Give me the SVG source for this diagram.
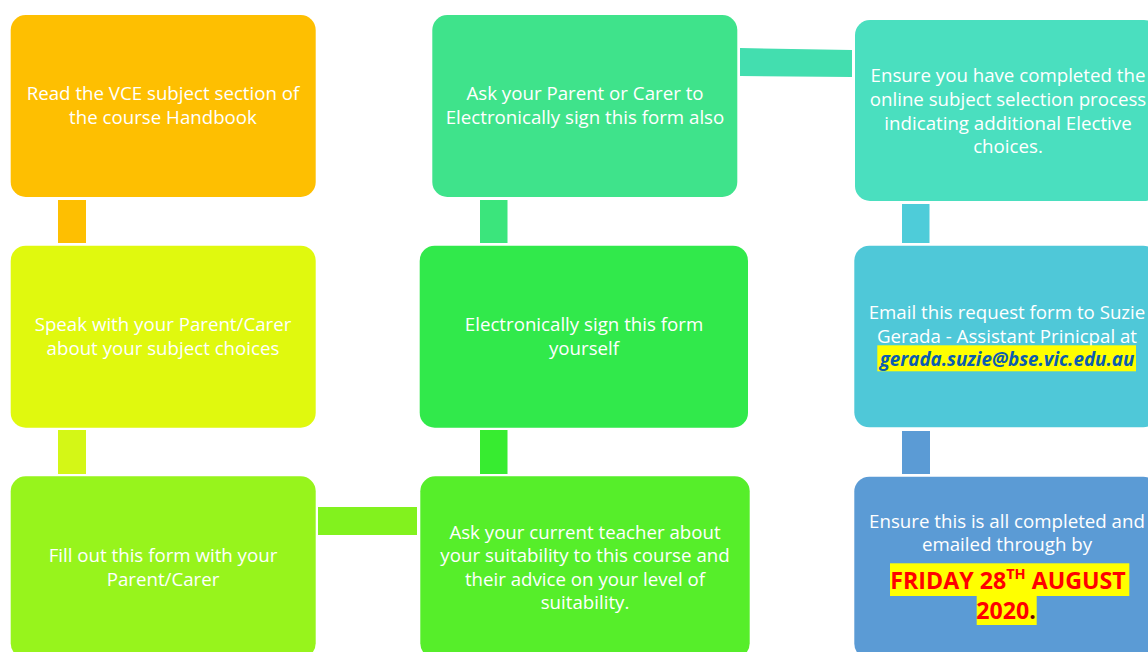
<svg xmlns="http://www.w3.org/2000/svg" width="1148" height="652" viewBox="0 0 1148 652">
<style>
.box{stroke:none}
.t{font-family:"Open Sans","Liberation Sans",sans-serif;font-size:18.7px;fill:#ffffff;text-anchor:middle}
.mail{font-family:"Open Sans","Liberation Sans",sans-serif;font-size:18.8px;font-weight:bold;font-style:italic;fill:#0B5CB0;text-anchor:middle}
.red{font-family:"Open Sans","Liberation Sans",sans-serif;font-size:23.2px;font-weight:bold;fill:#FF0000;text-anchor:middle}
.hl{fill:#FFFF00}
</style>
<rect width="1148" height="652" fill="#ffffff"/>
<g id="connectors">
<rect x="58" y="200" width="28" height="43" fill="#FEBF01"/>
<rect x="58" y="430" width="28" height="44" fill="#D4F716"/>
<rect x="318" y="507" width="99" height="28" fill="#82F21E"/>
<rect x="480" y="430" width="27.5" height="44" fill="#37EC30"/>
<rect x="480" y="200" width="27.5" height="43" fill="#3BE57C"/>
<polygon points="740,48 852,50 852,77 740,76" fill="#43DEAF"/>
<rect x="902" y="204" width="27.5" height="39" fill="#4ECCD9"/>
<rect x="902" y="431" width="28" height="43" fill="#5B9BD5"/>
</g>
<g id="n1">
<rect class="box" x="10.7" y="15" width="305" height="182" rx="15" fill="#FEBF01"/>
<text class="t" x="163" y="100">Read the VCE subject section of</text>
<text class="t" x="163" y="124">the course Handbook</text>
</g>
<g id="n2">
<rect class="box" x="10.7" y="245.7" width="305" height="182" rx="15" fill="#E0F90E"/>
<text class="t" x="163" y="331">Speak with your Parent/Carer</text>
<text class="t" x="163" y="355">about your subject choices</text>
</g>
<g id="n3">
<rect class="box" x="10.7" y="476.3" width="305" height="182" rx="15" fill="#97F41C"/>
<text class="t" x="163" y="562">Fill out this form with your</text>
<text class="t" x="163" y="586">Parent/Carer</text>
</g>
<g id="n4">
<rect class="box" x="420.3" y="476.3" width="329.4" height="182" rx="15" fill="#56EE2A"/>
<text class="t" x="585" y="539">Ask your current teacher about</text>
<text class="t" x="585" y="562">your suitability to this course and</text>
<text class="t" x="585" y="586">their advice on your level of</text>
<text class="t" x="585" y="609">suitability.</text>
</g>
<g id="n5">
<rect class="box" x="419.7" y="245.7" width="328.3" height="182" rx="15" fill="#31E94B"/>
<text class="t" x="584" y="331">Electronically sign this form</text>
<text class="t" x="584" y="355">yourself</text>
</g>
<g id="n6">
<rect class="box" x="432.3" y="15" width="305" height="182" rx="15" fill="#3FE38B"/>
<text class="t" x="585" y="100">Ask your Parent or Carer to</text>
<text class="t" x="585" y="124">Electronically sign this form also</text>
</g>
<g id="n7">
<rect class="box" x="855" y="20" width="304" height="181" rx="15" fill="#4ADFBF"/>
<text class="t" x="1008" y="82">Ensure you have completed the</text>
<text class="t" x="1008" y="106">online subject selection process</text>
<text class="t" x="1008" y="130">indicating additional Elective</text>
<text class="t" x="1008" y="153">choices.</text>
</g>
<g id="n8">
<rect class="box" x="854.3" y="245.7" width="304" height="181.6" rx="15" fill="#4FC8D8"/>
<text class="t" x="1007" y="319">Email this request form to Suzie</text>
<text class="t" x="1007" y="342.5">Gerada - Assistant Prinicpal at</text>
<rect class="hl" x="877.3" y="345.3" width="258.7" height="26"/>
<text class="mail" x="1007" y="366">gerada.suzie@bse.vic.edu.au</text>
</g>
<g id="n9">
<rect class="box" x="854.3" y="476.7" width="304" height="182" rx="15" fill="#5B9BD5"/>
<text class="t" x="1007" y="527.5">Ensure this is all completed and</text>
<text class="t" x="1007" y="551">emailed through by</text>
<rect class="hl" x="890" y="563.3" width="239.3" height="32.7"/>
<rect class="hl" x="976.7" y="596" width="60" height="29"/>
<text class="red" x="1008" y="589">FRIDAY 28<tspan font-size="14.5" dy="-10">TH</tspan><tspan dy="10"> AUGUST</tspan></text>
<text class="red" x="1006" y="619">2020<tspan fill="#6B0000">.</tspan></text>
</g>
</svg>
